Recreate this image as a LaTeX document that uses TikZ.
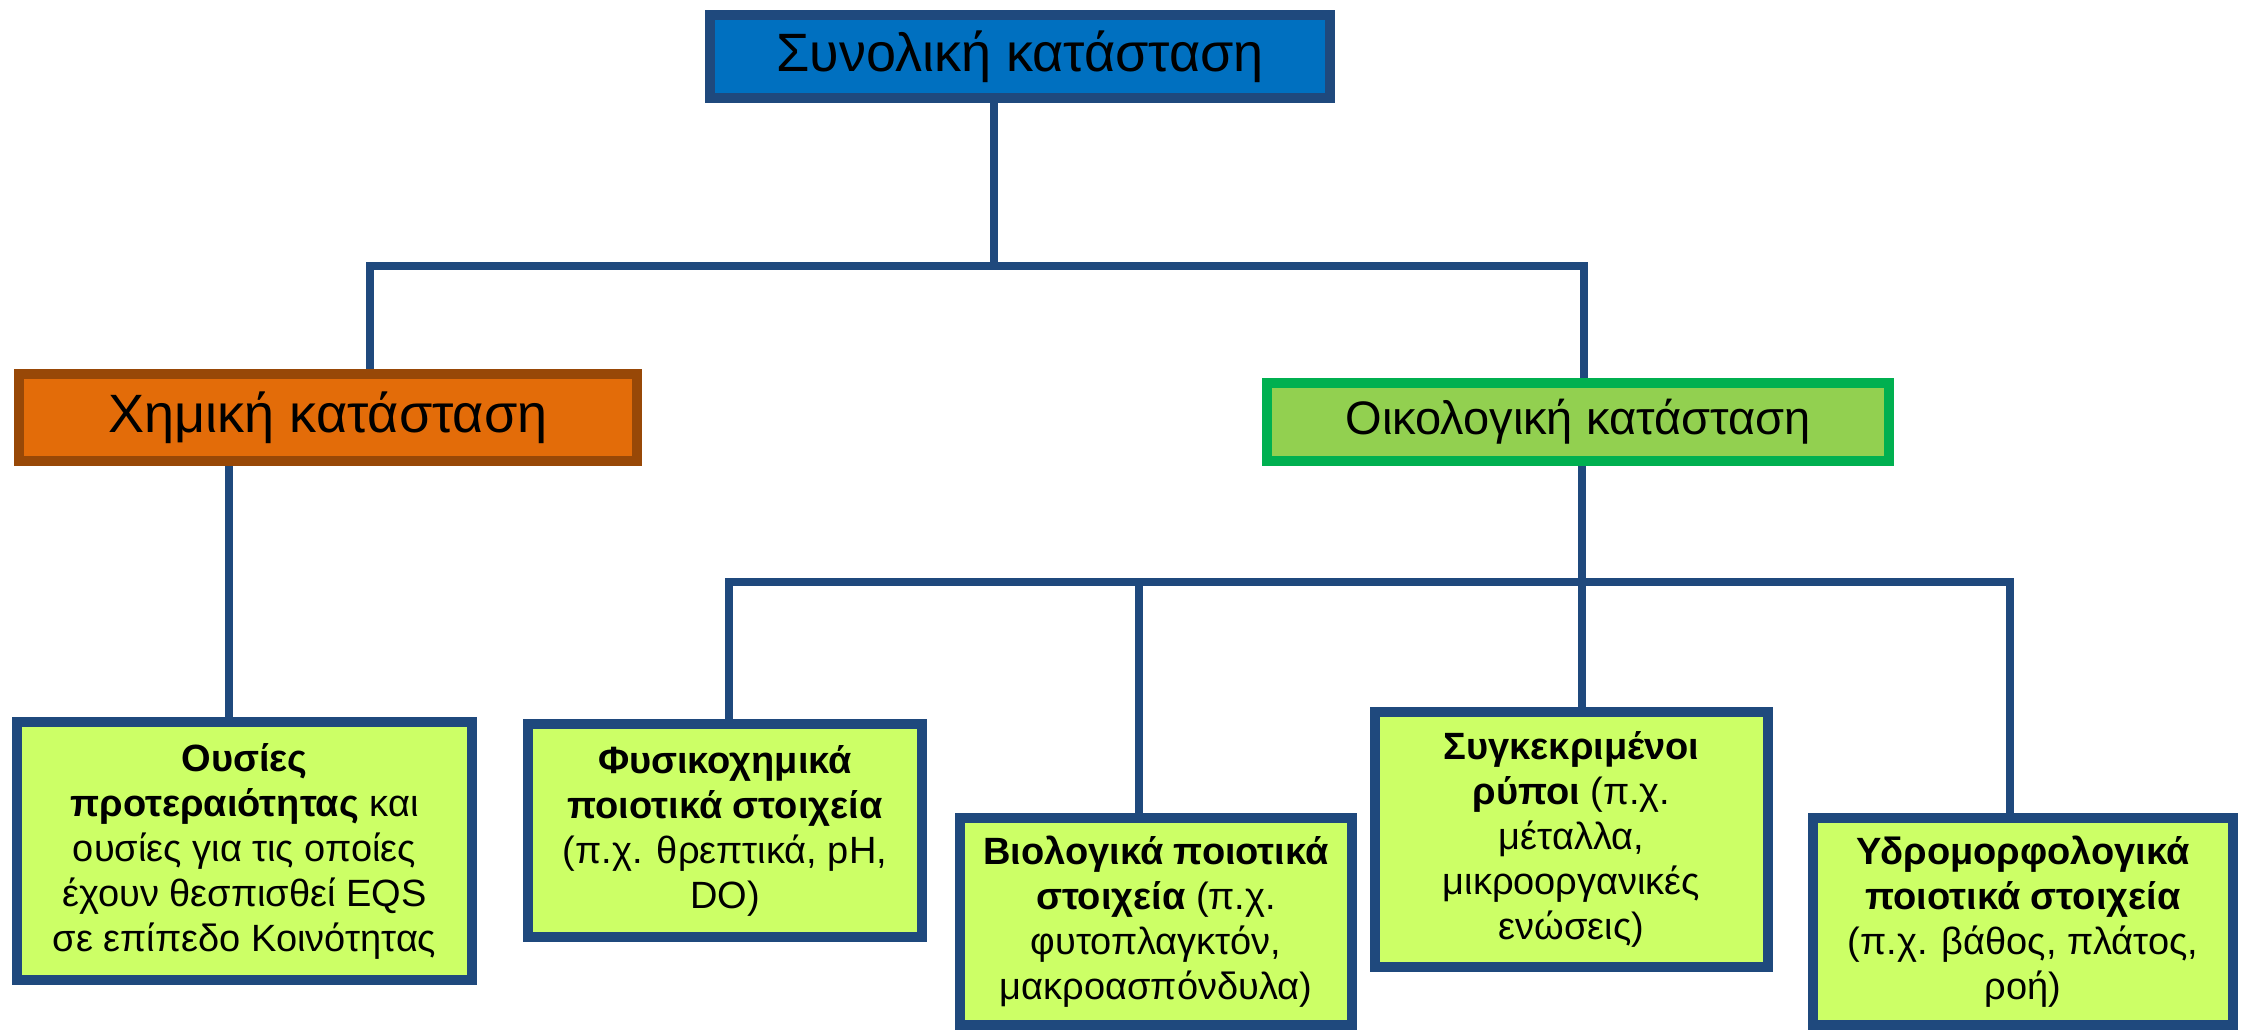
\documentclass[tikz,border=0pt]{standalone}
\usepackage{fontspec}
\setmainfont{Liberation Sans}
\usetikzlibrary{calc}
\pgfdeclarelayer{paper}
\pgfdeclarelayer{bg}
\pgfsetlayers{paper,bg,main}
\definecolor{navy}{HTML}{1F497D}
\definecolor{topfill}{HTML}{0070C0}
\definecolor{chemfill}{HTML}{E36C09}
\definecolor{chemline}{HTML}{984807}
\definecolor{ecofill}{HTML}{92D050}
\definecolor{ecoline}{HTML}{00B050}
\definecolor{leaffill}{HTML}{CCFF66}
\tikzset{
  conn/.style={draw=navy, line width=8pt},
  basebox/.style={rectangle, inner sep=0pt, line width=10pt, align=center, text=black},
  topbox/.style={basebox, draw=navy, fill=topfill, font=\fontsize{54}{60}\selectfont},
  chembox/.style={basebox, draw=chemline, fill=chemfill, font=\fontsize{54}{60}\selectfont},
  ecobox/.style={basebox, draw=ecoline, fill=ecofill, font=\fontsize{47}{54}\selectfont},
  leafbox/.style={basebox, draw=navy, fill=leaffill, font=\fontsize{38}{45}\selectfont}
}
\begin{document}
\begin{tikzpicture}[x=1pt,y=-1pt]
\useasboundingbox (0,0) rectangle (2243,1030);
\begin{pgfonlayer}{paper}
\fill[white] (0,0) rectangle (2243,1030);
\end{pgfonlayer}

\node[topbox, minimum width=620pt, minimum height=83pt] (top) at (1020,56.5) {Συνολική κατάσταση};
\node[chembox, minimum width=618pt, minimum height=87pt] (chem) at (328,417.5) {Χημική κατάσταση};
\node[ecobox, minimum width=622pt, minimum height=78pt] (eco) at (1578,422) {Οικολογική κατάσταση};

\node[leafbox, minimum width=455pt, minimum height=258pt] (b1) at (244.5,851)
  {\textbf{Ουσίες}\\\textbf{προτεραιότητας} και\\ουσίες για τις οποίες\\έχουν θεσπισθεί EQS\\σε επίπεδο Κοινότητας};
\node[leafbox, minimum width=394pt, minimum height=213pt] (b2) at (725,830.5)
  {\textbf{Φυσικοχημικά}\\\textbf{ποιοτικά στοιχεία}\\(π.χ. θρεπτικά, pH,\\DO)};
\node[leafbox, minimum width=392pt, minimum height=207pt] (b3) at (1156,921.5)
  {\textbf{Βιολογικά ποιοτικά}\\\textbf{στοιχεία} (π.χ.\\φυτοπλαγκτόν,\\μακροασπόνδυλα)};
\node[leafbox, minimum width=393pt, minimum height=255pt] (b4) at (1571.5,839.5)
  {\textbf{Συγκεκριμένοι}\\\textbf{ρύποι} (π.χ.\\μέταλλα,\\μικροοργανικές\\ενώσεις)};
\node[leafbox, minimum width=420pt, minimum height=207pt] (b5) at (2023,921.5)
  {\textbf{Υδρομορφολογικά}\\\textbf{ποιοτικά στοιχεία}\\(π.χ. βάθος, πλάτος,\\ροή)};

\coordinate (j0) at (994,266);
\coordinate (hl) at (370,266);
\coordinate (hr) at (1584,266);
\coordinate (cx) at (229,600);
\coordinate (ex) at (1582,582);
\coordinate (bl) at (729,582);
\coordinate (br) at (2010,582);
\coordinate (b3x) at (1139,582);

\begin{pgfonlayer}{bg}
\draw[conn] (top.south -| j0) -- (j0);
\draw[conn] (chem.north -| hl) -- (hl) -- (hr) -- (eco.north -| hr);
\draw[conn] (chem.south -| cx) -- (b1.north -| cx);
\draw[conn] (eco.south -| ex) -- (b4.north -| ex);
\draw[conn] (b2.north -| bl) -- (bl) -- (br) -- (b5.north -| br);
\draw[conn] (b3x) -- (b3.north -| b3x);
\end{pgfonlayer}
\end{tikzpicture}
\end{document}
